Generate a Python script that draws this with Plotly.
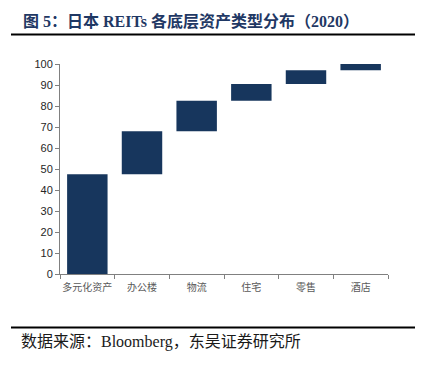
import plotly.graph_objects as go

categories = ["多元化资产", "办公楼", "物流", "住宅", "零售", "酒店"]
bases = [0, 47.5, 68, 82.5, 90.5, 97]
heights = [47.5, 20.5, 14.5, 8, 6.5, 3]
y_ticks = [0, 10, 20, 30, 40, 50, 60, 70, 80, 90, 100]

W, H = 435, 372
OFF = 8  # page body margin
# target screen coordinates of plot area
SX0, SX1, SY0, SY1 = 60, 388, 64, 274
L = SX0 - OFF
R = W - (SX1 - OFF)
T = SY0 - OFF
B = H - (SY1 - OFF)
pw, ph = W - L - R, H - T - B

def px(x):
    return (x - OFF - L) / pw

def py(y):
    return (H - B - (y - OFF)) / ph

fig = go.Figure(go.Bar(
    x=categories, y=heights, base=bases,
    marker=dict(color="#17365D", line=dict(width=0)),
    width=0.74, hoverinfo="skip",
))

fig.update_layout(
    width=W, height=H,
    margin=dict(l=L, r=R, t=T, b=B, autoexpand=False),
    paper_bgcolor="white", plot_bgcolor="white",
    showlegend=False,
    xaxis=dict(
        showline=True, linecolor="#808080", linewidth=1,
        ticks="outside", tickson="boundaries", ticklen=4, tickcolor="#808080",
        tickangle=0, automargin=False, ticklabelstandoff=4,
        tickfont=dict(family="Noto Sans CJK SC", size=10, color="#595959"),
        showgrid=False, zeroline=False,
    ),
    yaxis=dict(
        range=[0, 100], tickvals=y_ticks, automargin=False,
        showline=True, linecolor="#808080", linewidth=1,
        ticks="outside", ticklen=4, tickcolor="#808080",
        tickfont=dict(family="Liberation Sans, Arial", size=11, color="#262626"),
        showgrid=False, zeroline=False,
    ),
    shapes=[
        dict(type="line", xref="paper", yref="paper", x0=px(11), x1=px(415),
             y0=py(34.5), y1=py(34.5), line=dict(color="black", width=2)),
        dict(type="line", xref="paper", yref="paper", x0=px(11), x1=px(415),
             y0=py(327.5), y1=py(327.5), line=dict(color="black", width=2)),
    ],
    annotations=[
        dict(text="<b>图 5：日本 REITs 各底层资产类型分布（2020）</b>",
             xref="paper", yref="paper", x=px(21), y=py(21),
             xanchor="left", yanchor="middle", showarrow=False,
             font=dict(family="Liberation Serif, Noto Sans CJK SC", size=16, color="#1F3864")),
        dict(text="数据来源：Bloomberg，东吴证券研究所",
             xref="paper", yref="paper", x=px(19), y=py(342),
             xanchor="left", yanchor="middle", showarrow=False,
             font=dict(family="Liberation Serif, Noto Sans CJK SC", size=16, color="#1a1a1a")),
    ],
)

fig.write_html("out.html")
